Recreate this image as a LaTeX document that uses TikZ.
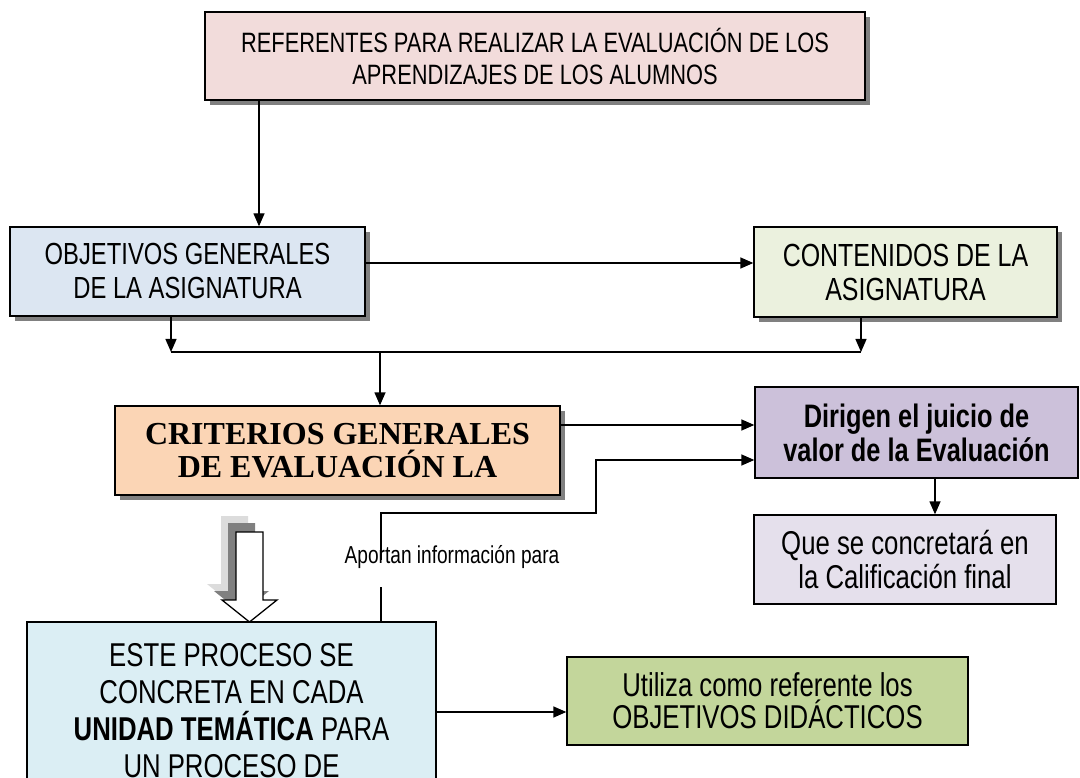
\documentclass[tikz,border=0pt]{standalone}
\usepackage{fontspec}
\setmainfont{Liberation Sans}[FakeStretch=0.78]
\newfontfamily\tnr{Liberation Serif}
\usetikzlibrary{arrows.meta}
\definecolor{cTop}{RGB}{242,220,219}
\definecolor{cObj}{RGB}{220,230,242}
\definecolor{cCont}{RGB}{235,241,222}
\definecolor{cCrit}{RGB}{251,213,181}
\definecolor{cDir}{RGB}{204,193,218}
\definecolor{cQue}{RGB}{229,224,236}
\definecolor{cEste}{RGB}{219,238,244}
\definecolor{cUti}{RGB}{195,214,155}
\definecolor{shadowgray}{RGB}{128,128,128}
\definecolor{lightshadow}{RGB}{220,220,220}
\tikzset{
  box/.style={draw=black, line width=1.3pt, align=center, inner sep=0pt, text=black},
  shad/.style={preaction={fill=shadowgray, draw=none, transform canvas={xshift=5pt,yshift=-5pt}}},
  arr/.style={line width=1.3pt, -{Triangle[length=13pt,width=11pt]}},
  con/.style={line width=1.3pt},
}
\newcommand{\fs}[2]{\fontsize{#1}{#2}\selectfont}
\begin{document}
\begin{tikzpicture}[x=1pt,y=-1pt]
\clip (0,0) rectangle (1080,778);
\fill[white] (0,0) rectangle (1080,778);
% nodes
\node[box, shad, fill=cTop, minimum width=660, minimum height=88, font=\fs{28}{32}] (top) at (535,56)
  {REFERENTES PARA REALIZAR LA EVALUACIÓN DE LOS\\APRENDIZAJES DE LOS ALUMNOS};
\node[box, shad, fill=cObj, minimum width=355, minimum height=89, font=\fs{30.5}{34}] (obj) at (187.5,271.5)
  {OBJETIVOS GENERALES\\DE LA ASIGNATURA};
\node[box, shad, fill=cCont, minimum width=303, minimum height=90, font=\fs{32}{34}] (cont) at (905.5,272)
  {CONTENIDOS DE LA\\ASIGNATURA};
\node[box, shad, fill=cCrit, minimum width=445, minimum height=89, font=\tnr\bfseries\fs{32}{33}] (crit) at (337.5,450.5)
  {CRITERIOS GENERALES\\DE EVALUACIÓN LA};
\node[box, fill=cDir, minimum width=323, minimum height=91, font=\bfseries\fs{32.5}{34}] (dir) at (916.5,432.5)
  {Dirigen el juicio de\\valor de la Evaluación};
\node[box, fill=cQue, minimum width=302, minimum height=89, font=\fs{33}{34}] (que) at (905,559.5)
  {Que se concretará en\\la Calificación final};
\node[box, fill=cEste, minimum width=409, minimum height=178, font=\fs{33}{37}] (este) at (231.5,711)
  {ESTE PROCESO SE\\CONCRETA EN CADA\\\textbf{UNIDAD TEMÁTICA} PARA\\UN PROCESO DE};
\node[box, fill=cUti, minimum width=401, minimum height=88, font=\fs{33}{32}] (uti) at (767.5,701)
  {Utiliza como referente los\\OBJETIVOS DIDÁCTICOS};
\node[font=\fs{24.5}{26}, inner sep=0pt] (apor) at (452,557) {Aportan información para};
% helper coordinates
\coordinate (xa) at (259,0);
\coordinate (ya) at (0,263);
\coordinate (xb) at (171,0);
\coordinate (xc) at (861,0);
\coordinate (jl) at (171,352);
\coordinate (jr) at (861,352);
\coordinate (jm) at (380,352);
\coordinate (yd) at (0,425);
\coordinate (ye) at (0,460);
\coordinate (xf) at (381,0);
\coordinate (gapb) at (381,587);
\coordinate (gapt) at (381,560);
\coordinate (bend) at (596,513);
\coordinate (xg) at (935,0);
\coordinate (yh) at (0,712);
% connectors
\draw[arr] (top.south -| xa) -- (obj.north -| xa);
\draw[arr] (obj.east |- ya) -- (cont.west |- ya);
\draw[arr] (obj.south -| xb) -- (jl);
\draw[arr] (cont.south -| xc) -- (jr);
\draw[con] (jl) -- (jr);
\draw[arr] (jm) -- (crit.north -| jm);
\draw[arr] (crit.east |- yd) -- (dir.west |- yd);
\draw[con] (este.north -| xf) -- (gapb);
\draw[arr] (gapt) |- (bend) |- (dir.west |- ye);
\draw[arr] (dir.south -| xg) -- (que.north -| xg);
\draw[arr] (este.east |- yh) -- (uti.west |- yh);
% hollow block arrow with shadows
\fill[lightshadow] (221,516) -- (248,516) -- (248,584) -- (262,584) -- (234.5,606) -- (207,584) -- (221,584) -- cycle;
\fill[shadowgray] (228,523) -- (255,523) -- (255,591) -- (269,591) -- (241.5,613) -- (214,591) -- (228,591) -- cycle;
\draw[line width=1.3pt, fill=white, line join=miter] (236,532) -- (263,532) -- (263,600) -- (277,600) -- (249.5,622) -- (222,600) -- (236,600) -- cycle;
\end{tikzpicture}
\end{document}
